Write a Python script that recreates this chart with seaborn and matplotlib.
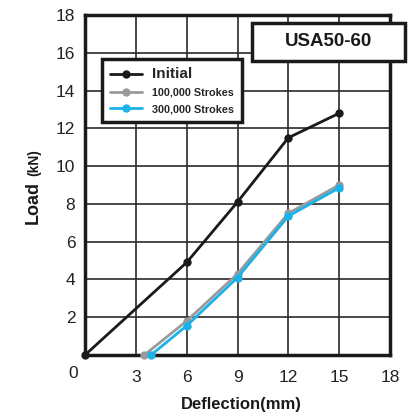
import matplotlib
matplotlib.use("Agg")
import matplotlib.pyplot as plt
from matplotlib.patches import Rectangle
import seaborn as sns
import pandas as pd

# data
x_initial = [0, 6, 9, 12, 15]
y_initial = [0, 4.9, 8.1, 11.5, 12.8]
x_100k = [3.5, 6, 9, 12, 15]
y_100k = [0, 1.8, 4.3, 7.5, 9.0]
x_300k = [3.9, 6, 9, 12, 15]
y_300k = [0, 1.55, 4.1, 7.35, 8.85]
series_names = ["Initial", "100,000 Strokes", "300,000 Strokes"]
x_ticks = [3, 6, 9, 12, 15, 18]
y_ticks = [2, 4, 6, 8, 10, 12, 14, 16, 18]

sns.set_style("white")
plt.rcParams['font.family'] = ['Liberation Sans', 'DejaVu Sans']

df = pd.concat([
    pd.DataFrame({"x": x_initial, "y": y_initial, "s": series_names[0]}),
    pd.DataFrame({"x": x_100k, "y": y_100k, "s": series_names[1]}),
    pd.DataFrame({"x": x_300k, "y": y_300k, "s": series_names[2]}),
])
palette = {series_names[0]: "#1a1a1a", series_names[1]: "#9a9a9a", series_names[2]: "#19b2ea"}

W, H = 413, 416
fig = plt.figure(figsize=(W / 100, H / 100), dpi=100)
ax = fig.add_axes([85/W, 1-355/H, (390-85)/W, (355-15)/H])

sns.lineplot(data=df, x="x", y="y", hue="s", palette=palette, marker="o",
             markersize=6, markeredgewidth=0, linewidth=2.0, ax=ax,
             sort=False, estimator=None, zorder=3, clip_on=False)

ax.set_xlim(0, 18)
ax.set_ylim(0, 18)
ax.set_xticks(x_ticks)
ax.set_yticks(y_ticks)
ax.tick_params(axis="x", length=0, pad=11, labelsize=12.5, colors="#222222")
ax.tick_params(axis="y", length=4, width=1.5, pad=3, labelsize=12.5, colors="#222222", direction="out")
ax.grid(True, color="#2a2a2a", linewidth=1.2)
for sp in ax.spines.values():
    sp.set_linewidth(2.5)
    sp.set_color("#1a1a1a")
    sp.set_visible(True)
fig.text(73/W, 1-373/H, "0", ha="center", va="center", fontsize=12.5, color="#222222")

ax.set_xlabel("")
ax.set_ylabel("")
fig.text(241/W, 1-404/H, "Deflection(mm)", ha="center", va="center",
         fontsize=12, fontweight="bold", color="#1a1a1a")
fig.text(33/W, 1-202/H, "Load", rotation=90, ha="center", va="center",
         fontsize=13, fontweight="bold", color="#1a1a1a")
fig.text(34/W, 1-163/H, "(kN)", rotation=90, ha="center", va="center",
         fontsize=10, fontweight="bold", color="#1a1a1a")

# title box
fig.patches.append(Rectangle((252/W, 1-61/H), (405-252)/W, (61-23)/H, transform=fig.transFigure,
                             fc="white", ec="#1a1a1a", lw=2.5, zorder=5))
fig.text(328/W, 1-42/H, "USA50-60", ha="center", va="center",
         fontsize=13.5, fontweight="bold", color="#1a1a1a", zorder=6)

handles, labels = ax.get_legend_handles_labels()
lprop = {"weight": "bold", "size": 7.8, "family": ["Liberation Sans"]}
leg = ax.legend(handles, labels, loc="upper left", bbox_to_anchor=(102/W, 1-59/H),
                bbox_transform=fig.transFigure, frameon=True, fancybox=False, framealpha=1,
                handlelength=2.95, handletextpad=0.9, borderpad=0.75, labelspacing=0.6,
                borderaxespad=0, prop=lprop)
leg.get_frame().set_edgecolor("#1a1a1a")
leg.get_frame().set_linewidth(2.5)
t0 = leg.get_texts()[0]
t0.set_fontsize(11)
leg.set_zorder(6)

fig.savefig("out.png", dpi=100)
